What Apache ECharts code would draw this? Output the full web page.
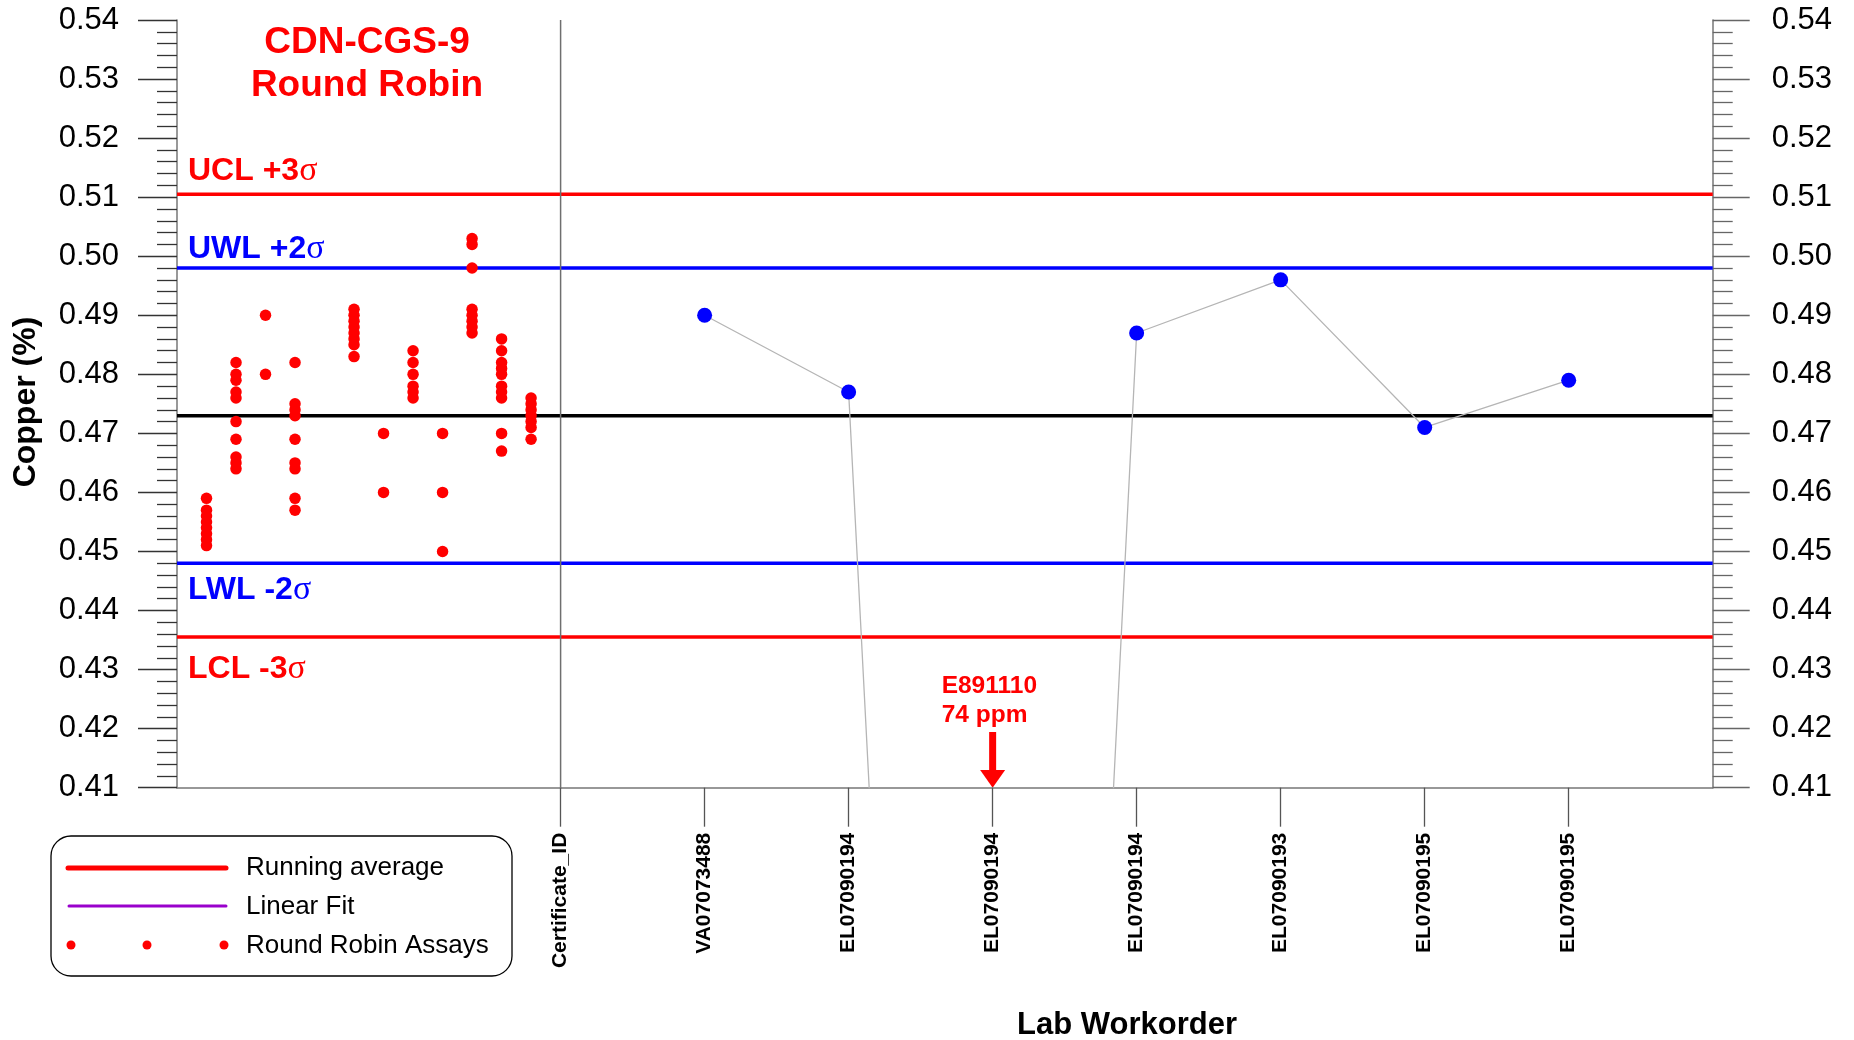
<!DOCTYPE html>
<html>
<head>
<meta charset="utf-8">
<title>CDN-CGS-9 Round Robin – Copper</title>
<script src="https://cdn.jsdelivr.net/npm/echarts@6/dist/echarts.min.js"></script>
<style>
  html, body { margin: 0; padding: 0; background: #fff; }
  #chart { width: 1854px; height: 1040px; }
</style>
</head>
<body>
<div id="chart"></div>
<script>
// ---- data -------------------------------------------------------------
// Copper axis range (%)
const yRange = [0.41, 0.54];
const yStep = 0.01;

// Lab work orders along the bottom axis (index 0 is the certificate column)
const workorders = ['Certificate_ID', 'VA07073488', 'EL07090194', 'EL07090194',
                    'EL07090194', 'EL07090193', 'EL07090195', 'EL07090195'];
// Cu % reported for each work order; E891110 came back at 74 ppm = 0.0074 %
const workorderCu = [null, 0.490, 0.477, 0.0074, 0.487, 0.496, 0.471, 0.479];

// Round robin assays, one list per participating laboratory
const rrAssays = [
  [0.459, 0.457, 0.456, 0.455, 0.454, 0.453, 0.452, 0.451],
  [0.482, 0.480, 0.479, 0.477, 0.476, 0.472, 0.469, 0.466, 0.465, 0.464],
  [0.490, 0.480],
  [0.482, 0.475, 0.474, 0.473, 0.469, 0.465, 0.464, 0.459, 0.457],
  [],
  [0.491, 0.490, 0.489, 0.488, 0.487, 0.486, 0.485, 0.483],
  [0.470, 0.460],
  [0.484, 0.482, 0.480, 0.478, 0.477, 0.476],
  [0.470, 0.460, 0.450],
  [0.503, 0.502, 0.498, 0.491, 0.490, 0.489, 0.488, 0.487],
  [0.486, 0.484, 0.482, 0.481, 0.480, 0.478, 0.477, 0.476, 0.470, 0.467],
  [0.476, 0.475, 0.474, 0.473, 0.472, 0.471, 0.469]
];

// Control limits: UCL, UWL, certified mean, LWL, LCL
const limitValues = [0.5105, 0.498, 0.473, 0.448, 0.4355];
const limitLabels = ['UCL +3', 'UWL +2', '', 'LWL -2', 'LCL -3'];

// ---- styling ----------------------------------------------------------
const FONT = '"Liberation Sans", Arial, Helvetica, sans-serif';
const limitColors = ['#ff0000', '#0000ff', '#000000', '#0000ff', '#ff0000'];
const limitWidths = [3.5, 3.5, 3.5, 3.5, 3.5];
// label offset (px) from its limit line to the middle of the text
const limitLabelDy = [-23, -19, 0, 27, 32];

const rrX = [-1, 12];      // slot range of the round robin panel
const labX = [0, 8];       // work order range of the lab panel

const chart = echarts.init(document.getElementById('chart'), null, { renderer: 'canvas' });

function yAxisFor(gridIndex, position, tickLen, margin, tickColor) {
  return {
    type: 'value', gridIndex, position,
    min: yRange[0], max: yRange[1], interval: yStep,
    axisLine: { show: true, onZero: false, lineStyle: { color: '#777', width: 1.5 } },
    axisTick: { show: true, inside: false, length: tickLen, lineStyle: { color: tickColor, width: 1.3 } },
    minorTick: { show: true, splitNumber: 5, length: 20, lineStyle: { color: tickColor, width: 1.3 } },
    axisLabel: {
      show: true, margin, fontSize: 31, color: '#000', fontFamily: FONT,
      formatter: v => v.toFixed(2)
    },
    splitLine: { show: false },
    minorSplitLine: { show: false }
  };
}

const series = [];

// horizontal control lines, drawn in both panels
limitValues.forEach((v, i) => {
  [rrX, labX].forEach((range, g) => {
    series.push({
      type: 'line', xAxisIndex: g, yAxisIndex: g, silent: true, z: 1,
      symbol: 'none', clip: false,
      lineStyle: { color: limitColors[i], width: limitWidths[i] },
      data: range.map(x => [x, v])
    });
  });
});

// divider at the certificate column
series.push({
  type: 'line', xAxisIndex: 1, yAxisIndex: 1, silent: true, z: 2,
  symbol: 'none',
  lineStyle: { color: '#6f6f6f', width: 1.5 },
  data: yRange.map(y => [labX[0], y])
});

// round robin assays
series.push({
  type: 'scatter', xAxisIndex: 0, yAxisIndex: 0, z: 4,
  symbol: 'circle', symbolSize: 11.5,
  itemStyle: { color: '#ff0000', opacity: 1 },
  data: rrAssays.flatMap((vals, lab) => vals.map(v => [lab, v]))
});

// lab work order results
series.push({
  type: 'line', xAxisIndex: 1, yAxisIndex: 1, z: 4, clip: true,
  symbol: 'circle', symbolSize: 15, showSymbol: true,
  itemStyle: { color: '#0000ff', opacity: 1 },
  lineStyle: { color: '#b5b5b5', width: 1.3 },
  data: workorderCu
    .map((v, i) => (v == null ? null : (v < yRange[0] ? { value: [i, v], symbol: 'none' } : [i, v])))
    .filter(d => d !== null)
});

chart.setOption({
  animation: false,
  backgroundColor: '#ffffff',
  textStyle: { fontFamily: FONT },
  grid: [
    { left: 177, top: 20, width: 383.6, height: 767.7, outerBoundsMode: 'none', containLabel: false },
    { left: 560.6, top: 20, width: 1152.1, height: 767.7, outerBoundsMode: 'none', containLabel: false }
  ],
  xAxis: [
    {
      type: 'value', gridIndex: 0, min: rrX[0], max: rrX[1],
      axisLine: { show: true, onZero: false, lineStyle: { color: '#777', width: 1.5 } },
      axisTick: { show: false }, axisLabel: { show: false }, splitLine: { show: false }
    },
    {
      type: 'value', gridIndex: 1, min: labX[0], max: labX[1],
      axisLine: { show: true, onZero: false, lineStyle: { color: '#777', width: 1.5 } },
      axisTick: {
        show: true, inside: false, length: 39,
        customValues: workorders.map((_, i) => i),
        lineStyle: { color: '#555', width: 1.3 }
      },
      axisLabel: {
        show: true, rotate: 90, margin: 45,
        customValues: workorders.map((_, i) => i),
        fontSize: 21, fontWeight: 'bold', color: '#000', fontFamily: FONT,
        formatter: v => workorders[Math.round(v)] || ''
      },
      splitLine: { show: false }
    }
  ],
  yAxis: [
    yAxisFor(0, 'left', 39, 58, '#333'),
    yAxisFor(1, 'right', 37, 59, '#666')
  ],
  series
});

// ---- annotations ------------------------------------------------------
const toPx = (g, x, y) => chart.convertToPixel({ gridIndex: g }, [x, y]);
const graphics = [];

// panel title
graphics.push(
  { type: 'text', x: 367, y: 43, style: { text: 'CDN-CGS-9', font: 'bold 37px ' + FONT, fill: '#ff0000', align: 'center', verticalAlign: 'middle' } },
  { type: 'text', x: 367, y: 86, style: { text: 'Round Robin', font: 'bold 37px ' + FONT, fill: '#ff0000', align: 'center', verticalAlign: 'middle' } }
);

// axis titles
graphics.push(
  { type: 'text', x: 26, y: 402, rotation: Math.PI / 2,
    style: { text: 'Copper (%)', font: 'bold 32px ' + FONT, fill: '#000', align: 'center', verticalAlign: 'middle' } },
  { type: 'text', x: 1127, y: 1025,
    style: { text: 'Lab Workorder', font: 'bold 31px ' + FONT, fill: '#000', align: 'center', verticalAlign: 'middle' } }
);

// control limit labels
limitValues.forEach((v, i) => {
  if (!limitLabels[i]) return;
  const p = toPx(0, rrX[0], v);
  graphics.push({
    type: 'text', x: 188, y: p[1] + limitLabelDy[i],
    style: {
      text: '{b|' + limitLabels[i] + '}{s|σ}',
      verticalAlign: 'middle', align: 'left',
      rich: {
        b: { font: 'bold 32px ' + FONT, fill: limitColors[i], verticalAlign: 'middle' },
        s: { font: '34px "Liberation Serif", "Times New Roman", serif', fill: limitColors[i], verticalAlign: 'middle' }
      }
    }
  });
});

// off-scale result marker
const offIdx = workorderCu.findIndex(v => v != null && v < yRange[0]);
const ax = toPx(1, offIdx, yRange[0]);
const ppm = Math.round(workorderCu[offIdx] * 10000);
graphics.push(
  { type: 'text', x: ax[0] - 51, y: 686, style: { text: 'E891110', font: 'bold 24.5px ' + FONT, fill: '#ff0000', align: 'left', verticalAlign: 'middle' } },
  { type: 'text', x: ax[0] - 51, y: 715, style: { text: ppm + ' ppm', font: 'bold 24.5px ' + FONT, fill: '#ff0000', align: 'left', verticalAlign: 'middle' } },
  { type: 'rect', shape: { x: ax[0] - 3.5, y: 732, width: 7, height: 40 }, style: { fill: '#ff0000' } },
  { type: 'polygon', shape: { points: [[ax[0] - 12.5, 770], [ax[0] + 12.5, 770], [ax[0], ax[1]]] }, style: { fill: '#ff0000' } }
);

// legend box
graphics.push(
  { type: 'rect', shape: { x: 51, y: 836, width: 461, height: 140, r: 20 }, style: { fill: '#fff', stroke: '#000', lineWidth: 1.3 } },
  { type: 'line', shape: { x1: 68, y1: 868, x2: 226, y2: 868 }, style: { stroke: '#ff0000', lineWidth: 5, lineCap: 'round' } },
  { type: 'line', shape: { x1: 69, y1: 906, x2: 226, y2: 906 }, style: { stroke: '#9900cc', lineWidth: 3, lineCap: 'round' } },
  { type: 'circle', shape: { cx: 71, cy: 945, r: 4.5 }, style: { fill: '#ff0000' } },
  { type: 'circle', shape: { cx: 147, cy: 945, r: 4.5 }, style: { fill: '#ff0000' } },
  { type: 'circle', shape: { cx: 224, cy: 945, r: 4.5 }, style: { fill: '#ff0000' } },
  { type: 'text', x: 246, y: 868, style: { text: 'Running average', font: '26px ' + FONT, fill: '#000', verticalAlign: 'middle' } },
  { type: 'text', x: 246, y: 907, style: { text: 'Linear Fit', font: '26px ' + FONT, fill: '#000', verticalAlign: 'middle' } },
  { type: 'text', x: 246, y: 946, style: { text: 'Round Robin Assays', font: '26px ' + FONT, fill: '#000', verticalAlign: 'middle' } }
);

chart.setOption({ graphic: graphics });
</script>
</body>
</html>
